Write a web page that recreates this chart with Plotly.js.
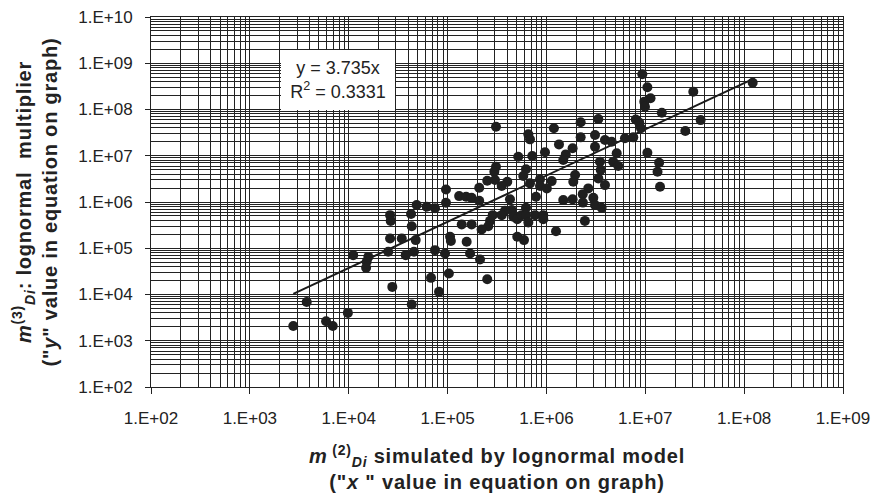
<!DOCTYPE html>
<html>
<head>
<meta charset="utf-8">
<script src="https://cdn.plot.ly/plotly-3.0.1.min.js"></script>
<style>
html,body{margin:0;padding:0;background:#fff;}
#chart{width:872px;height:495px;}
.xtitle,.ytitle{letter-spacing:0.8px;}
</style>
</head>
<body>
<div id="chart"></div>
<script>
// m(2)Di simulated by lognormal model ("x")
const xValues = [
  3.76e3, 2.75e3, 5.9e3, 6.9e3, 9.8e3, 1.52e4, 1.50e4, 2.76e4, 4.34e4, 6.8e4, 8.2e4,
  2.62e4, 2.66e4, 4.27e4, 4.34e4, 4.87e4, 6.15e4, 7.46e4, 2.62e4, 3.44e4, 4.76e4, 1.11e4, 1.58e4, 2.51e4, 3.77e4, 4.57e4, 7.46e4,
  3.09e5, 6.56e5, 6.82e5, 1.19e6, 2.22e6, 2.22e6, 3.10e6, 1.34e6, 1.84e6, 3.10e6,
  5.19e5, 7.19e5, 9.67e5, 1.57e6, 1.48e6, 6.21e5, 5.83e5, 3.09e5, 2.97e5, 2.52e5,
  3.02e5, 4.02e5, 3.53e5, 2.09e5, 9.64e4, 8.61e5, 1.13e6, 8.61e5, 1.01e6, 6.82e5,
  1.95e6, 1.87e6, 2.65e6, 2.33e6, 2.98e6, 1.48e6, 1.84e6, 3.10e6, 7.84e5, 4.28e5,
  1.31e5, 1.54e5, 1.75e5, 2.09e5, 9.64e4, 2.86e5, 2.69e5, 2.58e5, 2.21e5, 3.81e5,
  3.53e5, 4.45e5, 4.62e5, 5.07e5, 5.62e5, 6.21e5, 6.21e5, 6.56e5, 7.66e5, 9.29e5,
  9.29e5, 2.45e6, 1.25e6, 1.39e5, 1.75e5, 1.06e5, 1.08e5, 1.56e5, 5.07e5, 5.93e5,
  9.42e4, 1.69e5, 2.13e5, 1.03e5, 2.52e5,
  9.33e6, 1.05e7, 1.13e7, 9.77e6, 9.93e6, 3.06e7, 1.22e8, 1.47e7, 3.63e7, 2.54e7,
  3.35e6, 8.0e6, 8.69e6, 9.05e6, 3.91e6, 4.57e6, 6.23e6, 7.56e6, 5.14e6, 1.05e7,
  3.48e6, 4.74e6, 5.33e6, 1.38e7, 3.54e6, 1.33e7, 3.35e6, 3.91e6, 1.41e7, 2.34e6, 3.62e6
];
// m(3)Di lognormal multiplier ("y")
const yValues = [
  6.9e3, 2.09e3, 2.64e3, 2.09e3, 4.0e3, 5.1e4, 3.8e4, 1.46e4, 6.1e3, 2.29e4, 1.14e4,
  5.2e5, 3.9e5, 5.5e5, 3.0e5, 8.6e5, 7.9e5, 7.3e5, 1.63e5, 1.63e5, 1.50e5, 7.1e4, 6.5e4, 8.4e4, 7.1e4, 8.4e4, 9.1e4,
  4.25e7, 2.9e7, 2.26e7, 3.92e7, 5.28e7, 2.5e7, 2.81e7, 1.76e7, 1.45e7, 1.57e7,
  9.5e6, 9.9e6, 1.19e7, 1.07e7, 8.1e6, 5.1e6, 3.64e6, 5.8e6, 4.5e6, 2.88e6,
  2.98e6, 2.74e6, 2.21e6, 2.03e6, 1.87e6, 3.08e6, 2.83e6, 2.21e6, 1.97e6, 2.53e6,
  3.82e6, 2.74e6, 1.97e6, 1.48e6, 1.23e6, 1.10e6, 1.14e6, 8.6e5, 1.30e6, 1.14e6,
  1.34e6, 1.30e6, 1.23e6, 1.06e6, 9.6e5, 5.2e5, 3.9e5, 3.0e5, 2.55e5, 6.45e5,
  5.2e5, 6.7e5, 4.8e5, 4.26e5, 5.2e5, 7.5e5, 5.2e5, 3.6e5, 5.2e5, 5.2e5,
  4.26e5, 3.9e5, 2.34e5, 3.27e5, 3.27e5, 1.77e5, 1.43e5, 1.38e5, 1.77e5, 1.50e5,
  7.7e4, 7.7e4, 5.7e4, 2.85e4, 2.14e4,
  5.78e8, 3.03e8, 1.75e8, 1.48e8, 1.15e8, 2.43e8, 3.80e8, 8.5e7, 5.9e7, 3.43e7,
  6.2e7, 6.1e7, 5.2e7, 3.92e7, 2.19e7, 2.01e7, 2.38e7, 2.5e7, 1.13e7, 1.16e7,
  7.4e6, 7.4e6, 6.0e6, 7.05e6, 4.9e6, 4.5e6, 3.24e6, 2.32e6, 2.13e6, 9.7e5, 7.5e5
];
const trendSlope = 3.735;
const trendR2 = "0.3331";
const xTickVals = [1e2, 1e3, 1e4, 1e5, 1e6, 1e7, 1e8, 1e9];
const xTickText = ["1.E+02", "1.E+03", "1.E+04", "1.E+05", "1.E+06", "1.E+07", "1.E+08", "1.E+09"];
const yTickVals = [1e2, 1e3, 1e4, 1e5, 1e6, 1e7, 1e8, 1e9, 1e10];
const yTickText = ["1.E+02", "1.E+03", "1.E+04", "1.E+05", "1.E+06", "1.E+07", "1.E+08", "1.E+09", "1.E+10"];

const xMin = Math.min(...xValues), xMax = Math.max(...xValues);
const trendX = [xMin, xMax];
const trendY = trendX.map(v => trendSlope * v);

const FONT = "Liberation Sans, Arial, sans-serif";
const INK = "#222";

const traces = [
  {
    x: trendX, y: trendY, mode: "lines", type: "scatter",
    line: {color: "#1a1a1a", width: 2}, hoverinfo: "skip", showlegend: false
  },
  {
    x: xValues, y: yValues, mode: "markers", type: "scatter",
    marker: {color: "#1f1f1f", size: 10}, showlegend: false
  }
];

const gridStyle = {color: "#222", width: 1};

const layout = {
  width: 872, height: 495,
  margin: {l: 151, r: 29, t: 17, b: 108},
  paper_bgcolor: "#fff", plot_bgcolor: "#fff",
  font: {family: FONT, color: INK},
  showlegend: false,
  xaxis: {
    type: "log", range: [2, 9],
    tickmode: "array", tickvals: xTickVals, ticktext: xTickText,
    tickfont: {size: 17, color: INK, family: FONT},
    ticks: "outside", ticklen: 6, tickcolor: INK,
    ticklabelstandoff: 10,
    showgrid: true, gridcolor: gridStyle.color, gridwidth: gridStyle.width,
    minor: {tickmode: "linear", dtick: "D1", showgrid: true, gridcolor: gridStyle.color, gridwidth: gridStyle.width, ticks: ""},
    showline: true, linecolor: INK, linewidth: 1, mirror: true,
    zeroline: false,
    title: {
      text: "<b><i>m</i><sup> (2)</sup><sub><i>Di</i></sub> simulated by lognormal model<br>(\"<i>x</i> \" value in equation on graph)</b>",
      font: {size: 20, color: INK, family: FONT},
      standoff: 21
    }
  },
  yaxis: {
    type: "log", range: [2, 10],
    tickmode: "array", tickvals: yTickVals, ticktext: yTickText,
    tickfont: {size: 17, color: INK, family: FONT},
    ticks: "outside", ticklen: 5, tickcolor: INK,
    ticklabelstandoff: 9,
    showgrid: true, gridcolor: gridStyle.color, gridwidth: gridStyle.width,
    minor: {tickmode: "linear", dtick: "D1", showgrid: true, gridcolor: gridStyle.color, gridwidth: gridStyle.width, ticks: ""},
    showline: true, linecolor: INK, linewidth: 1, mirror: true,
    zeroline: false,
    title: {
      text: "<b><i>m</i><sup>(3)</sup><sub><i>Di</i></sub>: lognormal \u00a0multiplier<br>(\"<i>y</i>\" value in equation on graph)</b>",
      font: {size: 20, color: INK, family: FONT},
      standoff: 15
    }
  },
  annotations: [{
    xref: "paper", yref: "paper", x: 0.2702, y: 0.8303,
    xanchor: "center", yanchor: "middle",
    text: "y = " + trendSlope + "x<br>R<sup>2</sup> = " + trendR2,
    showarrow: false, bgcolor: "#fff", borderwidth: 0,
    width: 112, height: 58,
    font: {size: 18, color: INK, family: FONT}
  }]
};

Plotly.newPlot("chart", traces, layout, {displayModeBar: false, staticPlot: true});
</script>
</body>
</html>
